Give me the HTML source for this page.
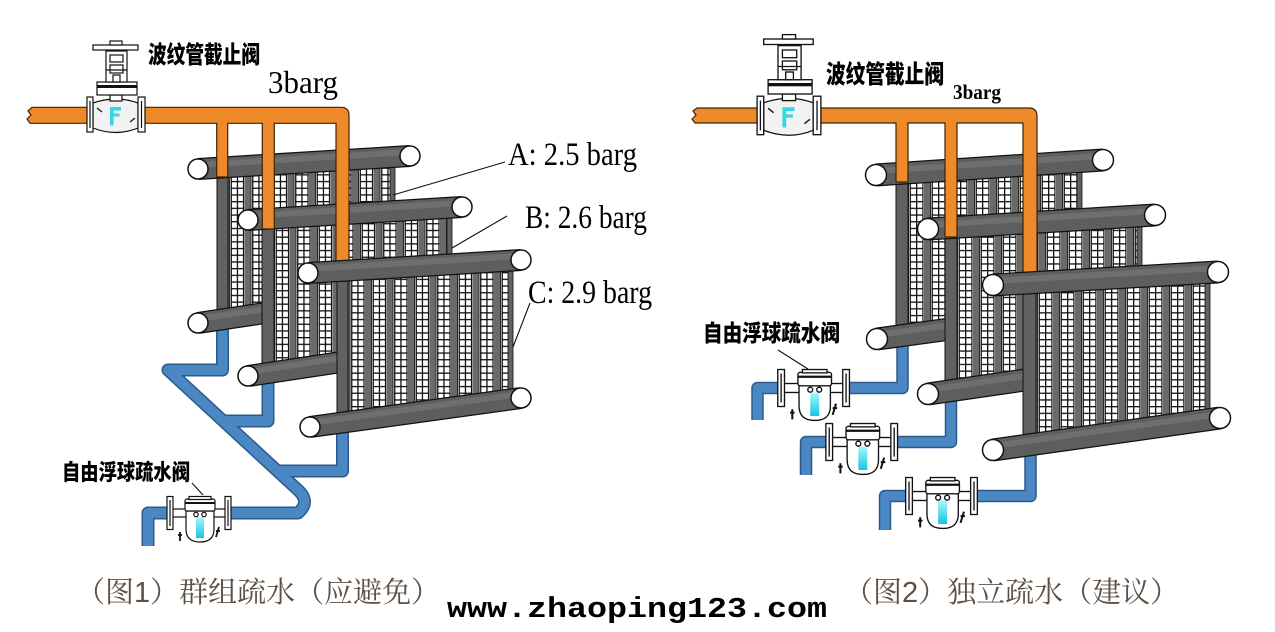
<!DOCTYPE html>
<html><head><meta charset="utf-8">
<style>html,body{margin:0;padding:0;background:#fff;}svg{display:block}</style>
</head>
<body>
<svg width="1275" height="632" viewBox="0 0 1275 632" xmlns="http://www.w3.org/2000/svg" xmlns:xlink="http://www.w3.org/1999/xlink">
<defs>
 <g id="cell1">
  <rect width="21.5" height="6.7" fill="#fff"/>
  <rect width="6" height="6.7" fill="#6a6a6a"/>
  <rect x="6" width="1" height="6.7" fill="#262626"/>
  <rect x="7.6" width="1.3" height="6.7" fill="#111"/>
  <rect x="13.8" width="1.3" height="6.7" fill="#111"/>
  <rect x="19.9" width="1.2" height="6.7" fill="#111"/>
  <rect x="7.6" y="0" width="13.5" height="1.3" fill="#111"/>
 </g>
 <g id="cell2">
  <rect width="22" height="6.7" fill="#fff"/>
  <rect width="6" height="6.7" fill="#6a6a6a"/>
  <rect x="6" width="1" height="6.7" fill="#262626"/>
  <rect x="7.6" width="1.3" height="6.7" fill="#111"/>
  <rect x="14" width="1.3" height="6.7" fill="#111"/>
  <rect x="20.3" width="1.2" height="6.7" fill="#111"/>
  <rect x="7.6" y="0" width="13.9" height="1.3" fill="#111"/>
 </g>
 <pattern id="p1a" patternUnits="userSpaceOnUse" x="223" y="0" width="21.5" height="6.7"><use xlink:href="#cell1" href="#cell1"/></pattern>
 <pattern id="p1b" patternUnits="userSpaceOnUse" x="268" y="2" width="21.5" height="6.7"><use xlink:href="#cell1" href="#cell1"/></pattern>
 <pattern id="p1c" patternUnits="userSpaceOnUse" x="343.5" y="4" width="21.5" height="6.7"><use xlink:href="#cell1" href="#cell1"/></pattern>
 <pattern id="p2a" patternUnits="userSpaceOnUse" x="902" y="0" width="22" height="6.7"><use xlink:href="#cell2" href="#cell2"/></pattern>
 <pattern id="p2b" patternUnits="userSpaceOnUse" x="951" y="2" width="22" height="6.7"><use xlink:href="#cell2" href="#cell2"/></pattern>
 <pattern id="p2c" patternUnits="userSpaceOnUse" x="1031" y="4" width="22" height="6.7"><use xlink:href="#cell2" href="#cell2"/></pattern>
 <linearGradient id="cy" x1="0" y1="0" x2="0" y2="1"><stop offset="0" stop-color="#a8f6ff"/><stop offset="1" stop-color="#14c6e0"/></linearGradient>

 <g id="valve" stroke="#111" stroke-width="1.2">
  <path d="M-23,-12 Q0,-20 22,-12 L22,13 Q0,22 -23,13 Z" fill="#f2f2f2"/>
  <path d="M-6,-8 h11 v3.5 h-7.5 v3 h6 v3 h-6 v9 h-3.5 Z" fill="#36d6e8" stroke="none"/>
  <path d="M-19,-7 l5,4 M14,7 l5,-4" fill="none"/>
  <rect x="-29" y="-18" width="6" height="35" fill="#fff"/>
  <line x1="-26" y1="-14" x2="-26" y2="13"/>
  <rect x="22" y="-18" width="7" height="35" fill="#fff"/>
  <line x1="25.5" y1="-14" x2="25.5" y2="13"/>
  <rect x="-6" y="-20" width="12" height="6" fill="#fff"/>
  <rect x="-19" y="-33" width="40" height="13" fill="#fff"/>
  <rect x="-19" y="-30" width="40" height="3" fill="#111" stroke="none"/>
  <rect x="-10" y="-64" width="21" height="31" fill="#fff"/>
  <rect x="-6" y="-60" width="13" height="7" fill="#fff"/>
  <rect x="-6" y="-50" width="13" height="8" fill="#fff"/>
  <line x1="-10" y1="-45" x2="11" y2="-45"/>
  <rect x="-3" y="-40" width="7" height="7" fill="#fff"/>
  <rect x="-23" y="-70" width="45" height="5" fill="#fff"/>
  <rect x="-6" y="-74" width="12" height="4" fill="#fff"/>
 </g>

 <g id="trap" stroke="#111" stroke-width="1.2">
  <rect x="-29" y="-4" width="58" height="8" fill="#fff"/>
  <rect x="-32" y="-16.5" width="6" height="33" fill="#fff"/>
  <line x1="-29" y1="-13" x2="-29" y2="13"/>
  <rect x="26" y="-16.5" width="6" height="33" fill="#fff"/>
  <line x1="29" y1="-13" x2="29" y2="13"/>
  <path d="M-13,-2 H15 V16 Q15,29 1,29 Q-13,29 -13,16 Z" fill="#fff"/>
  <rect x="-3" y="4" width="8" height="21" fill="url(#cy)" stroke="none"/>
  <circle cx="-3" cy="1.5" r="2.2" fill="#fff"/>
  <circle cx="5" cy="1.5" r="2.2" fill="#fff"/>
  <rect x="-14" y="-14" width="30" height="12" rx="2" fill="#fff"/>
  <line x1="-14" y1="-10" x2="16" y2="-10" stroke-width="2"/>
  <rect x="-10" y="-16.5" width="22" height="3" fill="#fff"/>
  <path d="M-19,19 v9 M-17,22 h-4 M20,14 l-3,10 M17,18 h4" fill="none" stroke-width="1.8"/>
 </g>
</defs>

<rect width="1275" height="632" fill="#fff"/>

<!-- ===== Blue drain pipes ===== -->
<g fill="none" stroke-linejoin="round" stroke="#2b5a8a" stroke-width="13">
 <path d="M222.5,322 V370 H168 L298,490 Q311,502 298,513 H225"/>
 <path d="M268,370 V421 H222"/>
 <path d="M342.5,425 V471 H276"/>
 <path d="M172,513 H148 V546"/>
</g>
<g fill="none" stroke-linejoin="round" stroke="#4a87c3" stroke-width="10">
 <path d="M222.5,322 V370 H168 L298,490 Q311,502 298,513 H225"/>
 <path d="M268,370 V421 H222"/>
 <path d="M342.5,425 V471 H276"/>
 <path d="M172,513 H148 V546"/>
</g>
<g fill="none" stroke-linejoin="round" stroke="#2b5a8a" stroke-width="12.5">
 <path d="M902.5,335 V388 H845"/>
 <path d="M951,388 V442 H893"/>
 <path d="M1030.5,440 V496 H973"/>
 <path d="M780,388 H757.5 V420"/>
 <path d="M828,442 H806 V475"/>
 <path d="M908,496 H885 V530"/>
</g>
<g fill="none" stroke-linejoin="round" stroke="#4a87c3" stroke-width="9.5">
 <path d="M902.5,335 V388 H845"/>
 <path d="M951,388 V442 H893"/>
 <path d="M1030.5,440 V496 H973"/>
 <path d="M780,388 H757.5 V420"/>
 <path d="M828,442 H806 V475"/>
 <path d="M908,496 H885 V530"/>
</g>

<!-- traps -->
<use xlink:href="#trap" href="#trap" transform="translate(199,513)"/>
<use xlink:href="#trap" href="#trap" transform="translate(813.6,388) scale(1.12)"/>
<use xlink:href="#trap" href="#trap" transform="translate(861.7,442) scale(1.12)"/>
<use xlink:href="#trap" href="#trap" transform="translate(941.5,496) scale(1.12)"/>

<!-- ===== FIGURE 1 ===== -->
<polygon points="217,167.8 395,156.9 395,293.5 217,320.2" fill="url(#p1a)"/>
<rect x="390" y="156" width="5" height="140" fill="#616161" stroke="#111" stroke-width="0.8"/>
<rect x="217" y="166" width="11" height="156" fill="#616161" stroke="#111" stroke-width="1"/>
<g>
 <line x1="198" y1="169" x2="410" y2="156" stroke="#111" stroke-width="22"/>
 <line x1="198" y1="169" x2="410" y2="156" stroke="#5e5e5e" stroke-width="19.5"/>
 <line x1="198" y1="165" x2="410" y2="152" stroke="#6f6f6f" stroke-width="6"/>
 <circle cx="198" cy="169" r="10" fill="#fff" stroke="#111" stroke-width="1.5"/>
 <circle cx="410" cy="156" r="10" fill="#fff" stroke="#111" stroke-width="1.5"/>
 <line x1="198" y1="323" x2="395" y2="293.5" stroke="#111" stroke-width="22"/>
 <line x1="198" y1="323" x2="395" y2="293.5" stroke="#5e5e5e" stroke-width="19.5"/>
 <line x1="198" y1="319" x2="395" y2="289.5" stroke="#6f6f6f" stroke-width="6"/>
 <circle cx="198" cy="323" r="10" fill="#fff" stroke="#111" stroke-width="1.5"/>
</g>
<polygon points="262,219.2 452,207.6 452,345.4 262,373.9" fill="url(#p1b)"/>
<rect x="447" y="207" width="5" height="140" fill="#616161" stroke="#111" stroke-width="0.8"/>
<rect x="262" y="217" width="12" height="158" fill="#616161" stroke="#111" stroke-width="1"/>
<g>
 <line x1="248" y1="220" x2="462" y2="207" stroke="#111" stroke-width="22"/>
 <line x1="248" y1="220" x2="462" y2="207" stroke="#5e5e5e" stroke-width="19.5"/>
 <line x1="248" y1="216" x2="462" y2="203" stroke="#6f6f6f" stroke-width="6"/>
 <circle cx="248" cy="220" r="10" fill="#fff" stroke="#111" stroke-width="1.5"/>
 <circle cx="462" cy="207" r="10" fill="#fff" stroke="#111" stroke-width="1.5"/>
 <line x1="248" y1="376" x2="452" y2="345.4" stroke="#111" stroke-width="22"/>
 <line x1="248" y1="376" x2="452" y2="345.4" stroke="#5e5e5e" stroke-width="19.5"/>
 <line x1="248" y1="372" x2="452" y2="341.4" stroke="#6f6f6f" stroke-width="6"/>
 <circle cx="248" cy="376" r="10" fill="#fff" stroke="#111" stroke-width="1.5"/>
</g>
<path d="M32,107.3 H341 Q349,107.3 349,115.3 V263 H336 V123.3 H274.3 V229 H262.3 V123.3 H227.7 V177 H216.7 V123.3 H30 L27,119 L31,115 L28,111 Z" fill="#ef8a2a" stroke="#3a2408" stroke-width="1.2"/>
<use xlink:href="#valve" href="#valve" transform="translate(116,115)"/>
<polygon points="337,271.2 513,260.5 513,398.8 337,423" fill="url(#p1c)"/>
<rect x="508" y="260" width="5" height="140" fill="#616161" stroke="#111" stroke-width="0.8"/>
<rect x="337" y="270" width="11" height="158" fill="#616161" stroke="#111" stroke-width="1"/>
<g>
 <line x1="308" y1="273" x2="521" y2="260" stroke="#111" stroke-width="22"/>
 <line x1="308" y1="273" x2="521" y2="260" stroke="#5e5e5e" stroke-width="19.5"/>
 <line x1="308" y1="269" x2="521" y2="256" stroke="#6f6f6f" stroke-width="6"/>
 <circle cx="308" cy="273" r="10" fill="#fff" stroke="#111" stroke-width="1.5"/>
 <circle cx="521" cy="260" r="10" fill="#fff" stroke="#111" stroke-width="1.5"/>
 <line x1="310" y1="427" x2="521" y2="398" stroke="#111" stroke-width="22"/>
 <line x1="310" y1="427" x2="521" y2="398" stroke="#5e5e5e" stroke-width="19.5"/>
 <line x1="310" y1="423" x2="521" y2="394" stroke="#6f6f6f" stroke-width="6"/>
 <circle cx="310" cy="427" r="10" fill="#fff" stroke="#111" stroke-width="1.5"/>
 <circle cx="521" cy="398" r="10" fill="#fff" stroke="#111" stroke-width="1.5"/>
</g>

<!-- ===== FIGURE 2 ===== -->
<polygon points="896,173.7 1082,161.4 1082,311 896,336.4" fill="url(#p2a)"/>
<rect x="1077" y="160" width="5" height="152" fill="#616161" stroke="#111" stroke-width="0.8"/>
<rect x="896" y="172" width="12" height="166" fill="#616161" stroke="#111" stroke-width="1"/>
<g>
 <line x1="876" y1="175" x2="1103" y2="160" stroke="#111" stroke-width="23"/>
 <line x1="876" y1="175" x2="1103" y2="160" stroke="#5e5e5e" stroke-width="20.5"/>
 <line x1="876" y1="171" x2="1103" y2="156" stroke="#6f6f6f" stroke-width="6"/>
 <circle cx="876" cy="175" r="10.5" fill="#fff" stroke="#111" stroke-width="1.5"/>
 <circle cx="1103" cy="160" r="10.5" fill="#fff" stroke="#111" stroke-width="1.5"/>
 <line x1="877" y1="339" x2="1082" y2="311" stroke="#111" stroke-width="23"/>
 <line x1="877" y1="339" x2="1082" y2="311" stroke="#5e5e5e" stroke-width="20.5"/>
 <line x1="877" y1="335" x2="1082" y2="307" stroke="#6f6f6f" stroke-width="6"/>
 <circle cx="877" cy="339" r="10.5" fill="#fff" stroke="#111" stroke-width="1.5"/>
</g>
<polygon points="945,228 1142,215.8 1142,363.2 945,391.5" fill="url(#p2b)"/>
<rect x="1137" y="215" width="5" height="150" fill="#616161" stroke="#111" stroke-width="0.8"/>
<rect x="945" y="226" width="12" height="166" fill="#616161" stroke="#111" stroke-width="1"/>
<g>
 <line x1="928" y1="229" x2="1155" y2="215" stroke="#111" stroke-width="23"/>
 <line x1="928" y1="229" x2="1155" y2="215" stroke="#5e5e5e" stroke-width="20.5"/>
 <line x1="928" y1="225" x2="1155" y2="211" stroke="#6f6f6f" stroke-width="6"/>
 <circle cx="928" cy="229" r="10.5" fill="#fff" stroke="#111" stroke-width="1.5"/>
 <circle cx="1155" cy="215" r="10.5" fill="#fff" stroke="#111" stroke-width="1.5"/>
 <line x1="928" y1="394" x2="1142" y2="363" stroke="#111" stroke-width="23"/>
 <line x1="928" y1="394" x2="1142" y2="363" stroke="#5e5e5e" stroke-width="20.5"/>
 <line x1="928" y1="390" x2="1142" y2="359" stroke="#6f6f6f" stroke-width="6"/>
 <circle cx="928" cy="394" r="10.5" fill="#fff" stroke="#111" stroke-width="1.5"/>
</g>
<path d="M697,108 H1029 Q1037,108 1037,116 V273 H1023 V123 H957 V237 H945 V123 H908 V182 H896 V123 H695 L692,119 L696,115 L693,111 Z" fill="#ef8a2a" stroke="#3a2408" stroke-width="1.2"/>
<use xlink:href="#valve" href="#valve" transform="translate(789,116) scale(1.1)"/>
<polygon points="1023,283.3 1210,272.5 1210,419.4 1023,445.8" fill="url(#p2c)"/>
<rect x="1205" y="272" width="5" height="148" fill="#616161" stroke="#111" stroke-width="0.8"/>
<rect x="1023" y="282" width="13" height="165" fill="#616161" stroke="#111" stroke-width="1"/>
<g>
 <line x1="993" y1="285" x2="1218" y2="272" stroke="#111" stroke-width="23"/>
 <line x1="993" y1="285" x2="1218" y2="272" stroke="#5e5e5e" stroke-width="20.5"/>
 <line x1="993" y1="281" x2="1218" y2="268" stroke="#6f6f6f" stroke-width="6"/>
 <circle cx="993" cy="285" r="10.5" fill="#fff" stroke="#111" stroke-width="1.5"/>
 <circle cx="1218" cy="272" r="10.5" fill="#fff" stroke="#111" stroke-width="1.5"/>
 <line x1="993" y1="450" x2="1220" y2="418" stroke="#111" stroke-width="23"/>
 <line x1="993" y1="450" x2="1220" y2="418" stroke="#5e5e5e" stroke-width="20.5"/>
 <line x1="993" y1="446" x2="1220" y2="414" stroke="#6f6f6f" stroke-width="6"/>
 <circle cx="993" cy="450" r="10.5" fill="#fff" stroke="#111" stroke-width="1.5"/>
 <circle cx="1220" cy="418" r="10.5" fill="#fff" stroke="#111" stroke-width="1.5"/>
</g>

<!-- leader lines -->
<g stroke="#111" stroke-width="1.1">
 <line x1="393" y1="195" x2="505" y2="162"/>
 <line x1="452" y1="248" x2="507" y2="216"/>
 <line x1="513" y1="347" x2="530" y2="303"/>
 <line x1="192" y1="483" x2="203" y2="495"/>
 <line x1="778" y1="350" x2="808" y2="369"/>
</g>

<!-- text -->
<g font-family="'Liberation Sans','Noto Sans CJK SC',sans-serif" font-weight="900" fill="#000">
 <text x="148" y="63" font-size="24" textLength="112" lengthAdjust="spacingAndGlyphs">波纹管截止阀</text>
 <text x="826" y="83" font-size="25" textLength="118" lengthAdjust="spacingAndGlyphs">波纹管截止阀</text>
 <text x="62" y="480" font-size="22" textLength="128" lengthAdjust="spacingAndGlyphs">自由浮球疏水阀</text>
 <text x="703" y="341" font-size="23" textLength="137" lengthAdjust="spacingAndGlyphs">自由浮球疏水阀</text>
</g>
<g font-family="'Liberation Serif',serif" fill="#000">
 <text x="268" y="93" font-size="32" textLength="70" lengthAdjust="spacingAndGlyphs">3barg</text>
 <text x="953" y="99" font-size="21" font-weight="bold" textLength="48" lengthAdjust="spacingAndGlyphs">3barg</text>
 <text x="508" y="165" font-size="33" textLength="129" lengthAdjust="spacingAndGlyphs">A: 2.5 barg</text>
 <text x="525" y="228" font-size="33" textLength="122" lengthAdjust="spacingAndGlyphs">B: 2.6 barg</text>
 <text x="528" y="303" font-size="33" textLength="124" lengthAdjust="spacingAndGlyphs">C: 2.9 barg</text>
</g>
<g font-family="'Liberation Serif','Noto Serif CJK SC',serif" font-size="29" fill="#5c4f44">
 <text x="76" y="602">（图<tspan font-family="'Liberation Sans',sans-serif">1</tspan>）群组疏水（应避免）</text>
 <text x="844" y="602">（图<tspan font-family="'Liberation Sans',sans-serif">2</tspan>）独立疏水（建议）</text>
</g>
<text x="447" y="617" font-family="'Liberation Mono',monospace" font-weight="bold" font-size="29" textLength="380" lengthAdjust="spacingAndGlyphs" fill="#000">www.zhaoping123.com</text>
</svg>
</body></html>
